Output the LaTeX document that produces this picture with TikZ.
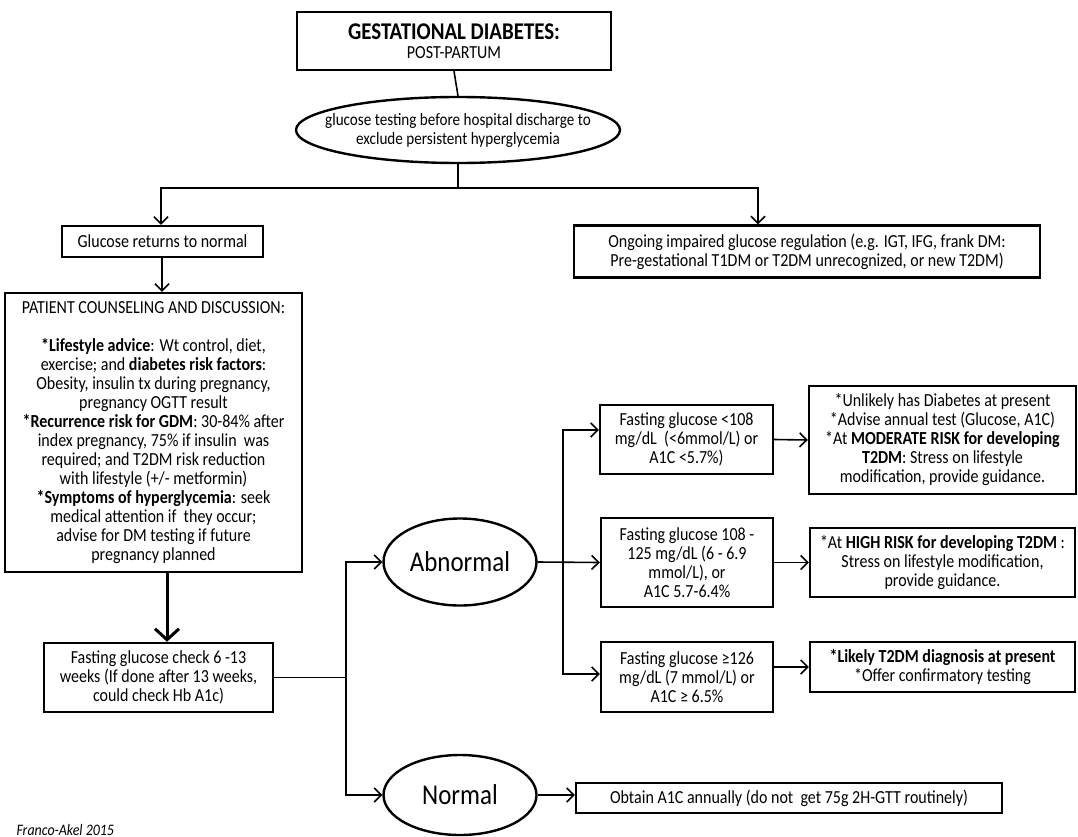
\documentclass[tikz,border=0pt]{standalone}
\usepackage{fontspec}
\setmainfont{Carlito}[FakeStretch=0.87]
\usetikzlibrary{arrows.meta,shapes.geometric}
\begin{document}
\begin{tikzpicture}[x=1pt, y=-1pt,
    txt/.style={font=\fontsize{18.4}{19}\selectfont, align=center},
    box/.style={txt, draw, line width=2.4pt, rectangle, inner sep=0pt},
    oval/.style={txt, draw, line width=2.4pt, ellipse},
    conn/.style={line width=1.6pt},
    arr/.style={conn, -{Straight Barb[length=7pt, width=14pt, line width=1.6pt]}},
    bigarr/.style={line width=3pt, -{Straight Barb[length=11pt, width=24pt, line width=3pt]}}]
    \useasboundingbox (0,0) rectangle (1078,837);

    \node[box, minimum width=314, minimum height=58] (title) at (454,41)
        {{\fontsize{24}{24}\selectfont\bfseries GESTATIONAL DIABETES:}\\POST-PARTUM};
    \node[oval, inner xsep=-22pt, inner ysep=2pt, minimum width=324, minimum height=66,
          font=\fontsize{17.4}{19}\selectfont] (test) at (458,130)
        {glucose testing before hospital discharge to\\exclude persistent hyperglycemia};
    \node[box, minimum width=201, minimum height=31] (glucose) at (162.5,241.5) {Glucose returns to normal};
    \node[box, minimum width=466, minimum height=52] (ongoing) at (807,251.5)
        {Ongoing impaired glucose regulation (e.g. IGT, IFG, frank DM:\\
         Pre-gestational T1DM or T2DM unrecognized, or new T2DM)};
    \node[box, minimum width=297, minimum height=279] (patient) at (153.5,432.5)
        {PATIENT COUNSELING AND DISCUSSION:\\[19pt]
         \textbf{*Lifestyle advice}: Wt control, diet,\\
         exercise; and \textbf{diabetes risk factors}:\\
         Obesity, insulin tx during pregnancy,\\
         pregnancy OGTT result\\
         \textbf{*Recurrence risk for GDM}: 30-84\% after\\
         index pregnancy, 75\% if insulin\ \ was\\
         required; and T2DM risk reduction\\
         with lifestyle (+/- metformin)\\
         \textbf{*Symptoms of hyperglycemia}: seek\\
         medical attention if\ \ they occur;\\
         advise for DM testing if future\\
         pregnancy planned};
    \node[box, minimum width=229, minimum height=69] (fasting) at (158.5,677.5)
        {Fasting glucose check 6 -13\\weeks (If done after 13 weeks,\\could check Hb A1c)};

    \node[oval, minimum width=153, minimum height=87, font=\fontsize{28.7}{30}\selectfont] (abnormal) at (460,562) {Abnormal};
    \node[oval, minimum width=153, minimum height=80, font=\fontsize{28.7}{30}\selectfont] (normal) at (460,795) {Normal};

    \node[box, minimum width=173, minimum height=69] (lt108) at (686.5,439.5)
        {Fasting glucose <108\\mg/dL\ \ (<6mmol/L) or\\A1C <5.7\%)};
    \node[box, minimum width=172, minimum height=89] (r108) at (687,562.5)
        {Fasting glucose 108 -\\125 mg/dL (6 - 6.9\\mmol/L), or\\A1C 5.7-6.4\%};
    \node[box, minimum width=172, minimum height=70] (ge126) at (687,677)
        {Fasting glucose ≥126\\mg/dL (7 mmol/L) or\\A1C ≥ 6.5\%};

    \node[box, minimum width=267, minimum height=108] (unlikely) at (942.5,440)
        {*Unlikely has Diabetes at present\\
         *Advise annual test (Glucose, A1C)\\
         *At \textbf{MODERATE RISK for developing}\\
         \textbf{T2DM}: Stress on lifestyle\\
         modification, provide guidance.};
    \node[box, minimum width=265, minimum height=69] (highrisk) at (942.5,562.5)
        {*At \textbf{HIGH RISK for developing T2DM} :\\
         Stress on lifestyle modification,\\
         provide guidance.};
    \node[box, minimum width=265, minimum height=50] (likely) at (942.5,667)
        {\textbf{*Likely T2DM diagnosis at present}\\*Offer confirmatory testing};
    \node[box, minimum width=426, minimum height=30] (obtain) at (789,798)
        {Obtain A1C annually (do not\ \ get 75g 2H-GTT routinely)};

    \node[anchor=base west, font=\fontsize{16}{16}\selectfont\itshape] (source) at (13,835) {Franco-Akel 2015};

    \coordinate (split) at (458,188);
    \coordinate (fork) at (346,677.5);
    \coordinate (afork) at (563,562);

    \draw[conn] (title.south) -- (test.north);
    \draw[conn] (test.south) -- (split);
    \draw[arr] (split) -| ([xshift=-1.5pt]glucose.north);
    \draw[arr] (split) -| ([xshift=-49pt]ongoing.north);
    \draw[arr] ([xshift=-0.5pt]glucose.south) -- ([xshift=8.5pt]patient.north);
    \draw[bigarr] ([xshift=13.5pt]patient.south) -- ([xshift=8.5pt]fasting.north);

    \draw[conn] (fasting.east) -- (fork);
    \draw[arr] (fork) |- (abnormal.west);
    \draw[arr] (fork) |- (normal.west);

    \draw[arr] (abnormal.east) -- (r108.west);
    \draw[arr] (afork) |- ([yshift=9.5pt]lt108.west);
    \draw[arr] (afork) |- ([yshift=3pt]ge126.west);

    \draw[arr] (lt108.east) -- (unlikely.west);
    \draw[arr] (r108.east) -- (highrisk.west);
    \draw[arr] (ge126.east |- likely.west) -- (likely.west);
    \draw[arr] (normal.east) -- (normal.east -| obtain.west);
\end{tikzpicture}
\end{document}
